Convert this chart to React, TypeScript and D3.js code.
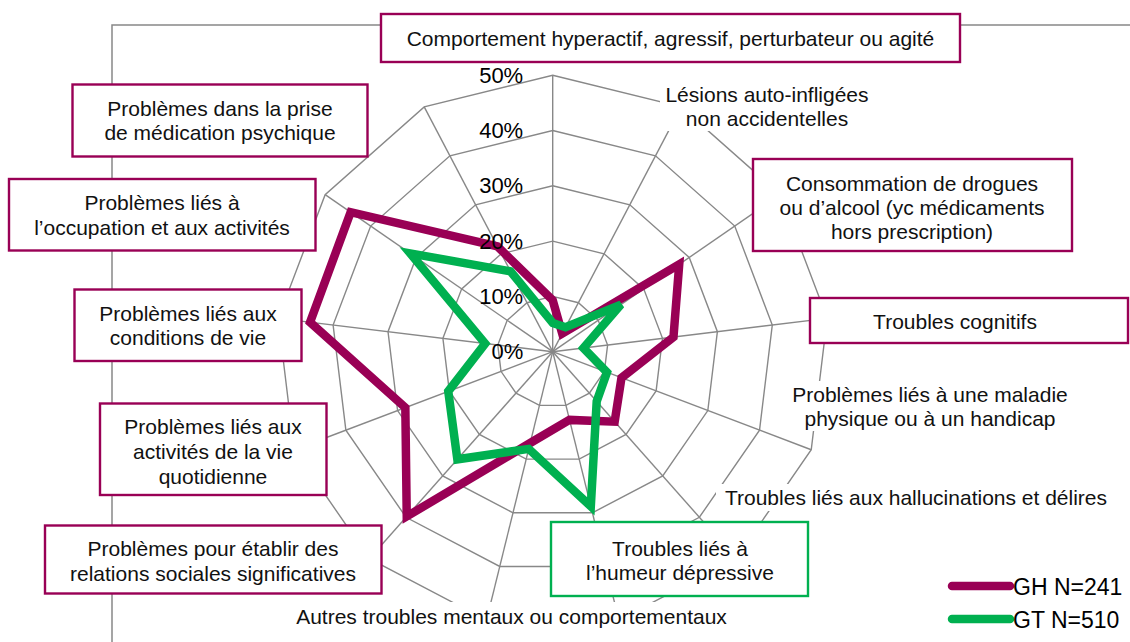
import React from "react";
import * as d3 from "d3";

// categories, clockwise from the top, already split the way the labels wrap
const categories: string[][] = [
  ["Comportement hyperactif, agressif, perturbateur ou agité"],
  ["Lésions auto-infligées", "non accidentelles"],
  ["Consommation de drogues", "ou d’alcool (yc médicaments", "hors prescription)"],
  ["Troubles cognitifs"],
  ["Problèmes liés à une maladie", "physique ou à un handicap"],
  ["Troubles liés aux hallucinations et délires"],
  ["Troubles liés à", "l’humeur dépressive"],
  ["Autres troubles mentaux ou comportementaux"],
  ["Problèmes pour établir des", "relations sociales significatives"],
  ["Problèmes liés aux", "activités de la vie", "quotidienne"],
  ["Problèmes liés aux", "conditions de vie"],
  ["Problèmes liés à", "l’occupation et aux activités"],
  ["Problèmes dans la prise", "de médication psychique"],
];

const seriesNames = ["GH N=241", "GT N=510"];
const ghValues = [9.3, 3.7, 27.8, 22, 13.3, 16.9, 12.7, 17, 39.8, 28.5, 44.2, 44.4, 21.5];
const gtValues = [5.2, 5, 15, 5.6, 10.5, 12, 28.8, 18.1, 26, 20.2, 12.3, 31.3, 16.4];
const tickValues = [0, 10, 20, 30, 40, 50];
const tickLabels = ["0%", "10%", "20%", "30%", "40%", "50%"];

const W = 1130;
const H = 642;
const cx = 552.7;
const cy = 351.7;
const PURPLE = "#990055";
const GREEN = "#00B050";
const GRID = "#888888";
const FONT = "'Liberation Sans', Arial, sans-serif";

// where each category label sits (cx, line centres, box; color "none" = plain white backing)
type Lbl = { x: number; ys: number[]; box: [number, number, number, number]; color: string };
const labelLayout: Lbl[] = [
  { x: 670.5, ys: [38], box: [381, 14, 579, 48], color: PURPLE },
  { x: 767, ys: [94, 118], box: [660, 81, 214, 50], color: "none" },
  { x: 912, ys: [183, 207, 231], box: [753, 159, 319, 92], color: PURPLE },
  { x: 955, ys: [321], box: [810, 298, 318, 45], color: PURPLE },
  { x: 930, ys: [394, 418], box: [789, 381, 282, 50], color: "none" },
  { x: 916, ys: [497], box: [716, 484, 400, 27], color: "none" },
  { x: 680, ys: [548, 572], box: [551, 522, 257, 74], color: GREEN },
  { x: 511.5, ys: [616], box: [287, 602, 449, 30], color: "none" },
  { x: 213, ys: [548.5, 573], box: [45, 525.5, 336.5, 68], color: PURPLE },
  { x: 213, ys: [426.5, 451.5, 476.5], box: [100, 403.5, 226.5, 91.5], color: PURPLE },
  { x: 188, ys: [313, 337], box: [74.5, 289.5, 227, 71.5], color: PURPLE },
  { x: 162, ys: [202, 227], box: [9, 179, 306.5, 71.5], color: PURPLE },
  { x: 220, ys: [108, 132], box: [72.5, 84.5, 295, 72], color: PURPLE },
];

const App: React.FC = () => {
  const n = categories.length;
  const r = d3.scaleLinear().domain([0, 50]).range([0, 276.5]);
  const angle = (i: number) => (i * 2 * Math.PI) / n;

  const radial = d3
    .lineRadial<number>()
    .angle((_, i) => angle(i))
    .radius((d) => r(d))
    .curve(d3.curveLinearClosed);

  const rings = tickValues.filter((t) => t > 0);
  const series = [
    { name: seriesNames[0], values: ghValues, color: PURPLE },
    { name: seriesNames[1], values: gtValues, color: GREEN },
  ];

  return (
    <svg
      width={W}
      height={H}
      style={{ position: "absolute", left: 0, top: 0, background: "#fff" }}
      fontFamily={FONT}
    >
      {/* plot area frame */}
      <path d={`M112,${H} V25 H${W}`} fill="none" stroke={GRID} strokeWidth={1.5} />

      <g transform={`translate(${cx},${cy})`}>
        {rings.map((t) => (
          <path
            key={t}
            d={radial(d3.range(n).map(() => t)) || ""}
            fill="none"
            stroke={GRID}
            strokeWidth={1.4}
          />
        ))}
        {d3.range(n).map((i) => (
          <line
            key={i}
            x1={0}
            y1={0}
            x2={r(50) * Math.sin(angle(i))}
            y2={-r(50) * Math.cos(angle(i))}
            stroke={GRID}
            strokeWidth={1.4}
          />
        ))}
        {series.map((s) => (
          <path
            key={s.name}
            d={radial(s.values) || ""}
            fill="none"
            stroke={s.color}
            strokeWidth={8.5}
            strokeLinejoin="miter"
            strokeMiterlimit={4}
          />
        ))}
        {tickValues.map((t, i) => (
          <text
            key={t}
            x={-29.5}
            y={-r(t)}
            textAnchor="end"
            dominantBaseline="central"
            fontSize={22}
            fill="#000"
          >
            {tickLabels[i]}
          </text>
        ))}
      </g>

      {/* category labels */}
      {categories.map((lines, i) => {
        const l = labelLayout[i];
        return (
          <g key={i}>
            <rect
              x={l.box[0]}
              y={l.box[1]}
              width={l.box[2]}
              height={l.box[3]}
              fill="#fff"
              stroke={l.color}
              strokeWidth={2.4}
            />
            {lines.map((line, j) => (
              <text
                key={j}
                x={l.x}
                y={l.ys[j]}
                textAnchor="middle"
                dominantBaseline="central"
                fontSize={21}
                fill="#111"
              >
                {line}
              </text>
            ))}
          </g>
        );
      })}

      {/* legend */}
      {series.map((s, i) => (
        <g key={s.name} transform={`translate(0,${586 + i * 33})`}>
          <line x1={952} x2={1010} y1={0} y2={0} stroke={s.color} strokeWidth={8.5} strokeLinecap="round" />
          <text x={1013} y={1} dominantBaseline="central" fontSize={23} fill="#000">
            {s.name}
          </text>
        </g>
      ))}
    </svg>
  );
};

export default App;
